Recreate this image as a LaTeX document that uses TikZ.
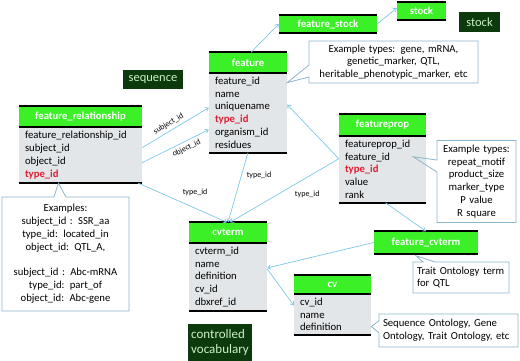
\documentclass[tikz,border=0pt]{standalone}
\usepackage{fontspec}
\setmainfont{Carlito}
\usepackage{xcolor}
\usetikzlibrary{arrows.meta,positioning,shapes.callouts}
\definecolor{headgreen}{RGB}{60,240,40}
\definecolor{bodygray}{RGB}{226,230,233}
\definecolor{darkgreen}{RGB}{12,58,12}
\definecolor{darktext}{RGB}{205,240,200}
\definecolor{keyred}{RGB}{225,30,50}
\definecolor{linkblue}{RGB}{125,200,230}
\definecolor{noteblue}{RGB}{140,180,205}
\newcommand{\keyfield}[1]{\textcolor{keyred}{\textbf{#1}}}

\begin{document}
\begin{tikzpicture}[x=1pt,y=-1pt,font=\fontsize{10.7}{12.8}\selectfont,
  head/.style={fill=headgreen,text=white,font=\fontsize{10.7}{12}\selectfont\bfseries,minimum height=20pt,inner sep=0pt},
  body/.style={fill=bodygray,align=left,inner xsep=6pt,inner ysep=4pt},
  rule/.style={line width=1.8pt,black},
  tag/.style={fill=darkgreen,text=darktext,font=\fontsize{12.5}{15}\selectfont,inner sep=0pt},
  note/.style={rectangle callout,draw=noteblue,line width=0.8pt,inner xsep=4pt,inner ysep=2pt,callout pointer width=12pt},
  link/.style={draw=linkblue,line width=0.7pt,-{Straight Barb[length=3pt,width=4.5pt]}},
  lbl/.style={font=\fontsize{8}{9}\selectfont,inner sep=1pt}]
  \useasboundingbox (0,0) rectangle (520,361);

  \node[head,minimum width=78pt] (feature) at (248,62.5) {feature};
  \node[body,text width=66pt,below=0pt of feature] (feature-b)
    {feature\_id\\name\\uniquename\\\keyfield{type\_id}\\organism\_id\\residues};
  \node[head,minimum width=123pt,minimum height=21pt] (featrel) at (80.5,116.5) {feature\_relationship};
  \node[body,text width=111pt,below=0pt of featrel] (featrel-b)
    {feature\_relationship\_id\\subject\_id\\object\_id\\\keyfield{type\_id}};
  \node[head,minimum width=78pt] (cvterm) at (228,232.5) {cvterm};
  \node[body,text width=66pt,below=0pt of cvterm] (cvterm-b)
    {cvterm\_id\\name\\definition\\cv\_id\\dbxref\_id};
  \node[head,minimum width=87pt,minimum height=21pt] (featureprop) at (382.5,125) {featureprop};
  \node[body,text width=75pt,below=0pt of featureprop] (featureprop-b)
    {featureprop\_id\\feature\_id\\\keyfield{type\_id}\\value\\rank};
  \node[head,minimum width=77pt,minimum height=18pt] (cv) at (332.5,284.5) {cv};
  \node[body,text width=65pt,below=0pt of cv] (cv-b) {cv\_id\\name\\definition};
  \node[head,minimum width=98pt,minimum height=18pt] (fstock) at (328,24) {feature\_stock};
  \node[head,minimum width=49pt,minimum height=18pt] (stock) at (421.5,11) {stock};
  \node[head,minimum width=104pt,minimum height=22pt] (fcvterm) at (426,242.5) {feature\_cvterm};

  \foreach \t in {feature,featrel,cvterm,featureprop,cv}
    \draw[rule] (\t.north west) -- (\t.north east) (\t.south west) -- (\t.south east)
      (\t-b.south west) -- (\t-b.south east);
  \foreach \t in {fstock,stock,fcvterm}
    \draw[rule] (\t.north west) -- (\t.north east) (\t.south west) -- (\t.south east);

  \node[tag,minimum width=60pt,minimum height=19pt] (seqtag) at (153,79.5) {sequence};
  \node[tag,minimum width=41pt,minimum height=20pt] (stocktag) at (479.5,22) {stock};
  \node[tag,text width=58pt,minimum height=37pt,align=left,anchor=north west,inner xsep=3pt,
    font=\fontsize{13}{15}\selectfont] (cvtag) at (188,324) {controlled\\vocabulary};

  \node[note,text width=161pt,minimum height=42pt,align=center,
    callout absolute pointer={([yshift=30pt]feature-b.east)}] (featnote) at (393.5,62)
    {Example types: gene, mRNA,\\genetic\_marker, QTL,\\heritable\_phenotypic\_marker, etc};
  \node[note,text width=119pt,minimum height=114pt,align=center,
    callout absolute pointer={([xshift=-22pt]featrel-b.south)}] (relnote) at (65.5,254)
    {Examples:\\subject\_id : SSR\_aa\\type\_id: located\_in\\object\_id: QTL\_A,\\[12.8pt]
     subject\_id : Abc-mRNA\\type\_id: part\_of\\object\_id: Abc-gene};
  \node[note,text width=71pt,minimum height=82pt,align=center,
    callout absolute pointer={([xshift=-13pt,yshift=12.5pt]featureprop-b.east)}] (propnote) at (476.5,181.5)
    {Example types:\\repeat\_motif\\product\_size\\marker\_type\\P value\\R square};
  \node[note,text width=88pt,minimum height=31pt,align=left,
    callout absolute pointer={([xshift=-10pt,yshift=-2pt]fcvterm.south)}] (traitnote) at (461,277.5)
    {Trait Ontology term\\for QTL};
  \node[note,text width=131pt,minimum height=33pt,align=left,
    callout absolute pointer={([yshift=-12pt]cv-b.east)}] (cvnote) at (448.5,330.5)
    {Sequence Ontology, Gene\\Ontology, Trait Ontology, etc};

  \draw[link] ([yshift=7.5pt]featrel-b.east) -- node[lbl,sloped,above=2pt,pos=.45] {subject\_id} ([yshift=5pt]feature-b.west);
  \draw[link] ([yshift=-7.5pt]featrel-b.east) -- node[lbl,sloped,below=2pt,pos=.62] {object\_id} ([yshift=-17pt]feature-b.west);
  \draw[link] ([xshift=-4pt]featrel-b.south east) -- node[lbl,pos=.64,above=11pt] {type\_id} ([xshift=-1pt]cvterm.north);
  \draw[link] (feature-b.south) -- node[lbl,pos=.33,right=4pt] {type\_id} (cvterm.north);
  \draw[link] ([yshift=10.5pt]featureprop-b.west) -- node[lbl,pos=.29,below=12pt] {type\_id} ([xshift=2pt]cvterm.north);
  \draw[link] ([yshift=10.5pt]featureprop-b.west) -- ([yshift=8pt]feature-b.east);
  \draw[link] ([xshift=3pt]feature.north) -- (fstock.west);
  \draw[link] (fstock.east) -- ([yshift=3pt]stock.west);
  \draw[link] ([xshift=3pt]featureprop-b.south) -- (fcvterm.north);
  \draw[link] (fcvterm.west) -- ([yshift=9pt]cvterm-b.east);
  \draw[link] ([yshift=8pt]cvterm-b.east) -- ([yshift=9pt]cv-b.west);
\end{tikzpicture}
\end{document}
